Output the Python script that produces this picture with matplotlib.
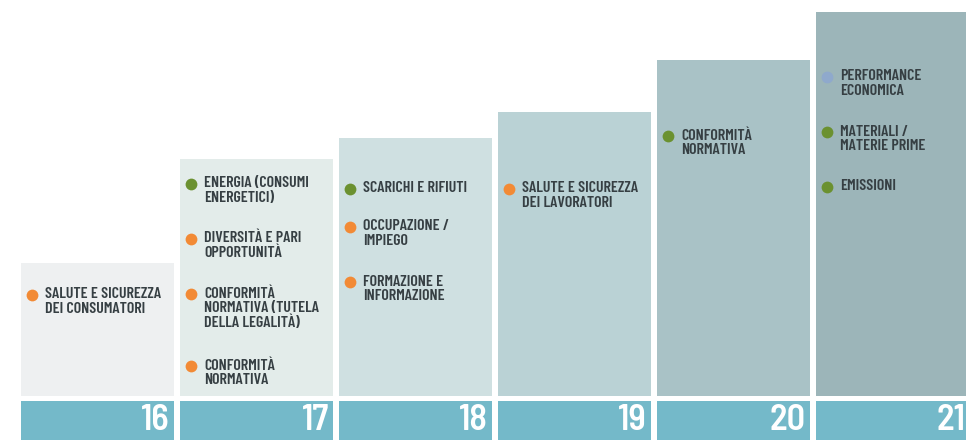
import matplotlib
matplotlib.use('Agg')
import matplotlib.pyplot as plt

# --- data ---
years = ['16', '17', '18', '19', '20', '21']
bar_heights = [133, 237, 258, 284, 336, 384]   # column heights above the base band (px)
bar_colors = ['#eef0f1', '#e3ecea', '#cfe0e1', '#bad2d5', '#a9c2c6', '#9cb5b9']

items = [
    [('SALUTE E SICUREZZA\nDEI CONSUMATORI', 'orange')],
    [('ENERGIA (CONSUMI\nENERGETICI)', 'green'),
     ('DIVERSITÀ E PARI\nOPPORTUNITÀ', 'orange'),
     ('CONFORMITÀ\nNORMATIVA (TUTELA\nDELLA LEGALITÀ)', 'orange'),
     ('CONFORMITÀ\nNORMATIVA', 'orange')],
    [('SCARICHI E RIFIUTI', 'green'),
     ('OCCUPAZIONE /\nIMPIEGO', 'orange'),
     ('FORMAZIONE E\nINFORMAZIONE', 'orange')],
    [('SALUTE E SICUREZZA\nDEI LAVORATORI', 'orange')],
    [('CONFORMITÀ\nNORMATIVA', 'green')],
    [('PERFORMANCE\nECONOMICA', 'blue'),
     ('MATERIALI /\nMATERIE PRIME', 'green'),
     ('EMISSIONI', 'green')],
]
# distance from column top to first bullet (px)
first_offset = [32, 25, 51, 77, 76, 65]

dot_colors = {'orange': '#f28a35', 'green': '#6b9130', 'blue': '#8fa9cc'}

FONT = ['Barlow Condensed', 'DejaVu Sans']
NUM_FONT = ['Barlow Semi Condensed', 'DejaVu Sans']

fig = plt.figure(figsize=(9.66, 4.4), dpi=100)
ax = fig.add_axes([0, 0, 1, 1])
ax.set_xlim(0, 966)
ax.set_ylim(440, 0)
ax.axis('off')

base = 396
col_w = 153
step = 159
x0 = 21
lefts = [x0 + i * step for i in range(len(years))]

# columns
ax.bar(lefts, [-h for h in bar_heights], width=col_w, bottom=base,
       align='edge', color=bar_colors, linewidth=0)
# teal base band
ax.bar(lefts, [40] * len(years), width=col_w, bottom=401,
       align='edge', color='#74b9c9', linewidth=0)

for i, yr in enumerate(years):
    ax.text(lefts[i] + col_w - 4, 420, yr, ha='right', va='center',
            color='white', fontsize=26, fontweight='semibold', family=NUM_FONT)

    top = base - bar_heights[i]
    y = top + first_offset[i]
    for label, c in items[i]:
        ax.scatter([lefts[i] + 11], [y], s=72, color=dot_colors[c],
                   linewidths=0, zorder=3)
        ax.text(lefts[i] + 24, y - 7.5, label, ha='left', va='top',
                color='#363f43', fontsize=11.5, fontweight='semibold',
                family=FONT, linespacing=1.05)
        nlines = label.count('\n') + 1
        y += nlines * 17 + 21

fig.savefig('out.png', dpi=100)
